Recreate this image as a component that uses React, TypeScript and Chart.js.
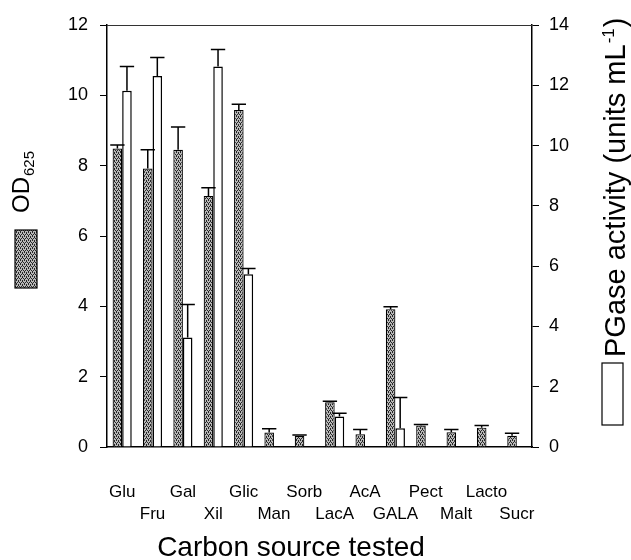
import React, { useEffect, useRef } from "react";
import { Chart, registerables } from "chart.js";

Chart.register(...registerables);

const categories = ["Glu", "Fru", "Gal", "Xil", "Glic", "Man", "Sorb", "LacA", "AcA", "GALA", "Pect", "Malt", "Lacto", "Sucr"];
const odValues = [8.49, 7.92, 8.45, 7.14, 9.58, 0.41, 0.32, 1.27, 0.36, 3.92, 0.61, 0.42, 0.55, 0.32];
const odErrors = [0.10, 0.53, 0.65, 0.23, 0.17, 0.11, 0.02, 0.03, 0.14, 0.07, 0.03, 0.08, 0.06, 0.07];
const pgValues = [11.82, 12.31, 3.63, 12.62, 5.73, 0, 0, 1.01, 0, 0.62, 0, 0, 0, 0];
const pgErrors = [0.80, 0.61, 1.10, 0.57, 0.19, 0, 0, 0.11, 0, 1.02, 0, 0, 0, 0];
const leftAxisMax = 12;
const rightAxisMax = 14;
const tickStep = 2;
const xTitle = "Carbon source tested";
const leftTitle = "OD";
const leftTitleSub = "625";
const rightTitle = "PGase activity (units mL";
const rightTitleSup = "-1";
const rightTitleEnd = ")";

const FONT = '"Liberation Sans", Arial, Helvetica, sans-serif';

function makePattern(): CanvasPattern | string {
  const c = document.createElement("canvas");
  c.width = 4;
  c.height = 4;
  const g = c.getContext("2d");
  if (!g) return "#999";
  g.fillStyle = "#b8b8b8";
  g.fillRect(0, 0, 4, 4);
  g.fillStyle = "#262626";
  [[0, 0], [2, 0], [1, 2], [3, 2], [2, 1], [0, 3]].forEach(([x, y]) => g.fillRect(x, y, 1, 1));
  return g.createPattern(c, "repeat") || "#999";
}

const errorsByDataset = [odErrors, pgErrors];

const errorBarPlugin = {
  id: "errorBars",
  afterDatasetsDraw(chart: any) {
    const ctx = chart.ctx;
    ctx.save();
    ctx.strokeStyle = "#000";
    ctx.lineWidth = 1.5;
    chart.data.datasets.forEach((ds: any, di: number) => {
      const meta = chart.getDatasetMeta(di);
      const scale = chart.scales[meta.yAxisID];
      const errs = errorsByDataset[di];
      meta.data.forEach((bar: any, i: number) => {
        const e = errs[i];
        const v = ds.data[i];
        if (!e) return;
        const p = bar.getProps(["x", "y", "width"], true);
        const yTop = scale.getPixelForValue(v + e);
        const hw = p.width * 0.75;
        ctx.beginPath();
        ctx.moveTo(p.x, p.y);
        ctx.lineTo(p.x, yTop);
        ctx.moveTo(p.x - hw, yTop);
        ctx.lineTo(p.x + hw, yTop);
        ctx.stroke();
      });
    });
    ctx.restore();
  },
};

function makeDecorPlugin(pattern: CanvasPattern | string) {
  return {
    id: "decor",
    afterDraw(chart: any) {
      const ctx = chart.ctx;
      const ca = chart.chartArea;
      ctx.save();
      // top frame line
      ctx.strokeStyle = "#333";
      ctx.lineWidth = 1;
      ctx.beginPath();
      ctx.moveTo(ca.left, ca.top + 0.5);
      ctx.lineTo(ca.right, ca.top + 0.5);
      ctx.stroke();

      ctx.fillStyle = "#000";
      ctx.textBaseline = "alphabetic";
      ctx.textAlign = "left";

      // left title (rotated) with subscript
      ctx.save();
      ctx.translate(ca.left - 78, ca.top + 188);
      ctx.rotate(-Math.PI / 2);
      ctx.font = `24px ${FONT}`;
      ctx.fillText(leftTitle, 0, 0);
      const w1 = ctx.measureText(leftTitle).width;
      ctx.font = `15px ${FONT}`;
      ctx.fillText(leftTitleSub, w1 + 1, 5);
      ctx.restore();

      // left legend swatch
      ctx.fillStyle = pattern as any;
      ctx.fillRect(ca.left - 92, ca.top + 205, 22, 58);
      ctx.strokeStyle = "#000";
      ctx.lineWidth = 1.2;
      ctx.strokeRect(ca.left - 92, ca.top + 205, 22, 58);

      // right title (rotated) with superscript
      ctx.fillStyle = "#000";
      ctx.save();
      ctx.translate(ca.right + 93, ca.top + 332);
      ctx.rotate(-Math.PI / 2);
      ctx.font = `29px ${FONT}`;
      ctx.fillText(rightTitle, 0, 0);
      const w2 = ctx.measureText(rightTitle).width;
      ctx.font = `17px ${FONT}`;
      ctx.fillText(rightTitleSup, w2 + 1, -11);
      const w3 = ctx.measureText(rightTitleSup).width;
      ctx.font = `29px ${FONT}`;
      ctx.fillText(rightTitleEnd, w2 + w3 + 2, 0);
      ctx.restore();

      // right legend swatch
      ctx.fillStyle = "#fff";
      ctx.fillRect(ca.right + 70, ca.top + 338, 21, 62);
      ctx.strokeStyle = "#000";
      ctx.lineWidth = 1.2;
      ctx.strokeRect(ca.right + 70, ca.top + 338, 21, 62);

      // x title
      ctx.fillStyle = "#000";
      ctx.font = `28px ${FONT}`;
      ctx.textAlign = "center";
      ctx.textBaseline = "middle";
      ctx.fillText(xTitle, ca.left + 184, ca.bottom + 101);
      ctx.restore();
    },
  };
}

export default function App() {
  const canvasRef = useRef<HTMLCanvasElement | null>(null);

  useEffect(() => {
    if (!canvasRef.current) return;
    const pattern = makePattern();
    const labels = categories.map((c, i) => (i % 2 === 0 ? [c, ""] : ["", c]));
    const chart = new Chart(canvasRef.current, {
      type: "bar",
      data: {
        labels,
        datasets: [
          {
            label: "OD625",
            data: odValues,
            backgroundColor: pattern as any,
            borderColor: "#000",
            borderWidth: 1.2,
            yAxisID: "yL",
            categoryPercentage: 0.63,
            barPercentage: 1,
          },
          {
            label: "PGase activity",
            data: pgValues,
            backgroundColor: "#fff",
            borderColor: "#000",
            borderWidth: 1.5,
            yAxisID: "yR",
            categoryPercentage: 0.63,
            barPercentage: 1,
          },
        ],
      },
      options: {
        responsive: false,
        animation: false,
        layout: { padding: { top: 25, left: 0, right: 0, bottom: 0 } },
        plugins: {
          legend: { display: false },
          tooltip: { enabled: false },
          title: { display: false },
        },
        scales: {
          x: {
            grid: { display: false },
            border: { display: true, color: "#000", width: 1.5 },
            ticks: {
              color: "#000",
              font: { family: FONT, size: 17, lineHeight: 1.3 },
              padding: 26,
              maxRotation: 0,
              autoSkip: false,
            },
            afterFit: (s: any) => {
              s.height = 113;
            },
          },
          yL: {
            type: "linear",
            position: "left",
            min: 0,
            max: leftAxisMax,
            grid: { drawOnChartArea: false, drawTicks: true, tickLength: 7, tickColor: "#000", tickWidth: 1 },
            border: { display: true, color: "#000", width: 1.5 },
            ticks: { stepSize: tickStep, color: "#000", font: { family: FONT, size: 18 }, padding: 12 },
            afterFit: (s: any) => {
              s.width = 107;
            },
          },
          yR: {
            type: "linear",
            position: "right",
            min: 0,
            max: rightAxisMax,
            grid: { drawOnChartArea: false, drawTicks: true, tickLength: 7, tickColor: "#000", tickWidth: 1 },
            border: { display: true, color: "#000", width: 1.5 },
            ticks: { stepSize: tickStep, color: "#000", font: { family: FONT, size: 18 }, padding: 10 },
            afterFit: (s: any) => {
              s.width = 99;
            },
          },
        },
      } as any,
      plugins: [errorBarPlugin, makeDecorPlugin(pattern)],
    });
    return () => chart.destroy();
  }, []);

  return (
    <div style={{ position: "fixed", left: 0, top: 0, width: 631, height: 560, background: "#fff" }}>
      <canvas ref={canvasRef} width={631} height={560} style={{ display: "block" }} />
    </div>
  );
}
